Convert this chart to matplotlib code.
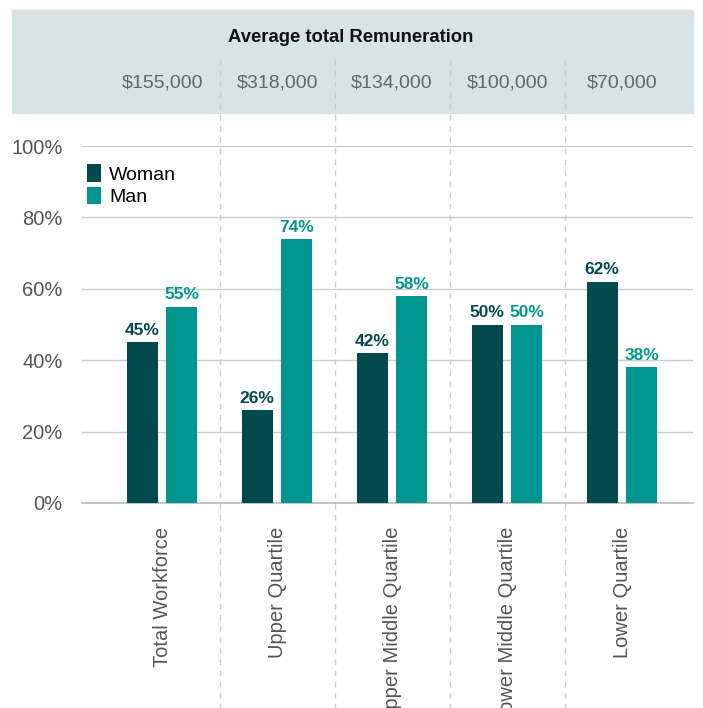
import matplotlib.pyplot as plt
import matplotlib.transforms as mtransforms
from matplotlib.patches import Rectangle
import numpy as np

plt.rcParams['font.family'] = ['Liberation Sans', 'DejaVu Sans']

categories = ["Total Workforce", "Upper Quartile", "Upper Middle Quartile",
              "Lower Middle Quartile", "Lower Quartile"]
remuneration = ["$155,000", "$318,000", "$134,000", "$100,000", "$70,000"]
woman = [45, 26, 42, 50, 62]
man = [55, 74, 58, 50, 38]

dark = "#024a4d"
teal = "#00968f"
grey_txt = "#555555"

fig = plt.figure(figsize=(7.03, 7.08), dpi=100)

# header band (behind the axes)
fig.patches.append(Rectangle((12 / 703, 595 / 708), 681 / 703, 103 / 708,
                             transform=fig.transFigure, color="#d6e5e3", zorder=-1))

ax = fig.add_axes([82 / 703, 205 / 708, 611 / 703, 357 / 708])
ax.patch.set_alpha(0)
x = np.arange(len(categories))
w = 0.27
off = 0.172

b1 = ax.bar(x - off, woman, w, color=dark, label="Woman", zorder=3)
b2 = ax.bar(x + off, man, w, color=teal, label="Man", zorder=3)

for rect, v in zip(b1, woman):
    ax.text(rect.get_x() + rect.get_width() / 2, v + 1.2, f"{v}%", ha="center", va="bottom",
            fontsize=12.5, fontweight="bold", color=dark)
for rect, v in zip(b2, man):
    ax.text(rect.get_x() + rect.get_width() / 2, v + 1.2, f"{v}%", ha="center", va="bottom",
            fontsize=12.5, fontweight="bold", color=teal)

ax.set_xlim(-0.696, 4.617)
ax.set_ylim(0, 100)
ax.set_yticks([0, 20, 40, 60, 80, 100])
ax.set_yticklabels([f"{t}%" for t in [0, 20, 40, 60, 80, 100]])
ax.yaxis.grid(True, color="#cccccc", linewidth=1, zorder=0)
ax.axhline(0, color="#bbbbbb", linewidth=1.2, zorder=2, clip_on=False)
ax.set_axisbelow(True)
for s in ax.spines.values():
    s.set_visible(False)
ax.tick_params(axis="y", length=0, labelsize=14.5, labelcolor=grey_txt, pad=14)
ax.set_xticks(x)
ax.set_xticklabels(categories, rotation=90, fontsize=14.5, color=grey_txt)
ax.tick_params(axis="x", length=0, pad=17)

# dashed separators between groups, running up into the header
trans = mtransforms.blended_transform_factory(ax.transData, ax.transAxes)
for sep in x[:-1] + 0.5:
    ax.plot([sep, sep], [-0.6, 1.24], transform=trans, color="#cccccc",
            linestyle=(0, (4, 4)), linewidth=1, clip_on=False, zorder=1)

# header texts
for xi, r in zip(x, remuneration):
    ax.text(xi, 1.176, r, transform=trans, ha="center", va="center",
            fontsize=14, color="#666666")
fig.text(351 / 703, 1 - 38 / 708, "Average total Remuneration", ha="center", va="center",
         fontsize=13.3, fontweight="bold", color="#111111")

ax.legend(loc="upper left", bbox_to_anchor=(-0.005, 0.97), frameon=False, fontsize=14,
          handlelength=0.75, handleheight=1.0, handletextpad=0.4, labelspacing=0.15,
          borderaxespad=0)

fig.savefig("out.png", dpi=100)
